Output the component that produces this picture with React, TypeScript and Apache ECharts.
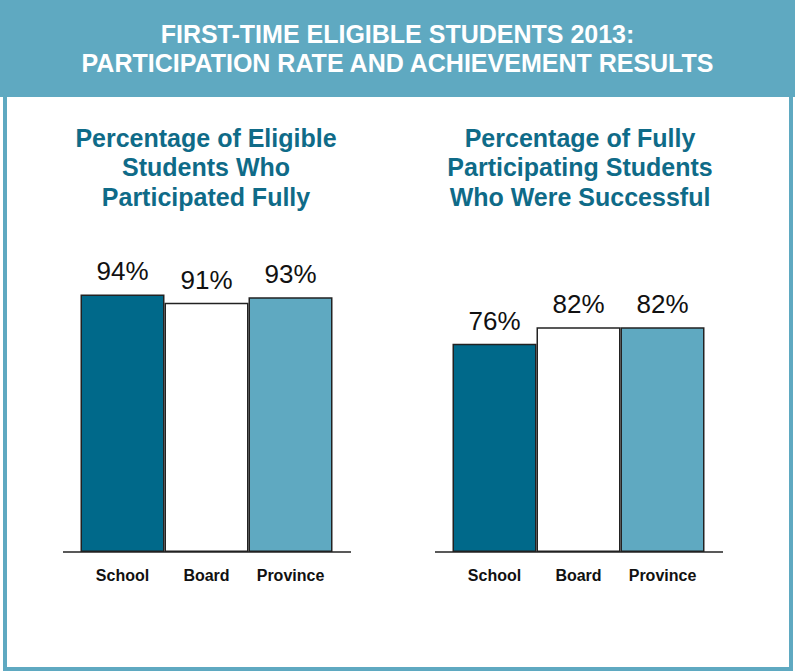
import React, { useEffect, useRef } from "react";
import * as echarts from "echarts";

const categories = ["School", "Board", "Province"];
const participationValues = [94, 91, 93];
const successValues = [76, 82, 82];
const barColors = ["#00698a", "#ffffff", "#5fa9c1"];

const headerTitle = "FIRST-TIME ELIGIBLE STUDENTS 2013:\nPARTICIPATION RATE AND ACHIEVEMENT RESULTS";
const leftTitle = "Percentage of Eligible\nStudents Who\nParticipated Fully";
const rightTitle = "Percentage of Fully\nParticipating Students\nWho Were Successful";

const FONT = "'Liberation Sans', Arial, Helvetica, sans-serif";
const TEAL = "#5fa9c1";
const DARK_TEAL_TEXT = "#0f6b88";

export default function App() {
  const ref = useRef<HTMLDivElement>(null);

  useEffect(() => {
    document.body.style.margin = "0";
    if (!ref.current) return;
    const chart = echarts.init(ref.current, null, { renderer: "svg" });

    const makeData = (vals: number[]) =>
      vals.map((v, i) => ({
        value: v,
        itemStyle: { color: barColors[i], borderColor: "#222", borderWidth: 1.5 },
      }));

    const xAxisBase = (gridIndex: number) => ({
      type: "category" as const,
      gridIndex,
      data: categories,
      axisLine: { show: false },
      axisTick: { show: false },
      axisLabel: {
        interval: 0,
        fontFamily: FONT,
        fontSize: 16,
        fontWeight: "bold" as const,
        color: "#111",
        margin: 15,
      },
    });

    const yAxisBase = (gridIndex: number) => ({
      type: "value" as const,
      gridIndex,
      min: 0,
      max: 100,
      show: false,
      splitLine: { show: false },
    });

    const seriesBase = (idx: number, vals: number[]) => ({
      type: "bar" as const,
      xAxisIndex: idx,
      yAxisIndex: idx,
      barWidth: "100%",
      barCategoryGap: "0%",
      data: makeData(vals),
      label: {
        show: true,
        position: "top" as const,
        distance: 10,
        formatter: "{c}%",
        fontFamily: FONT,
        fontSize: 26,
        color: "#111",
      },
      z: 3,
    });

    chart.setOption({
      animation: false,
      backgroundColor: "#ffffff",
      grid: [
        { left: 80.5, width: 252, top: 278, height: 274 },
        { left: 452.5, width: 252, top: 278, height: 274 },
      ],
      xAxis: [xAxisBase(0), xAxisBase(1)],
      yAxis: [yAxisBase(0), yAxisBase(1)],
      series: [seriesBase(0, participationValues), seriesBase(1, successValues)],
      graphic: [
        { type: "rect", z: 0, shape: { x: 0, y: 0, width: 795, height: 97 }, style: { fill: TEAL } },
        { type: "rect", z: 0, shape: { x: 3, y: 96, width: 4, height: 575 }, style: { fill: TEAL } },
        { type: "rect", z: 0, shape: { x: 789, y: 96, width: 4, height: 575 }, style: { fill: TEAL } },
        { type: "rect", z: 0, shape: { x: 3, y: 667, width: 790, height: 4 }, style: { fill: TEAL } },
        {
          type: "line",
          z: 10,
          shape: { x1: 63, y1: 552, x2: 351, y2: 552 },
          style: { stroke: "#222", lineWidth: 1.5 },
        },
        {
          type: "line",
          z: 10,
          shape: { x1: 435, y1: 552, x2: 723, y2: 552 },
          style: { stroke: "#222", lineWidth: 1.5 },
        },
        {
          type: "text",
          z: 5,
          x: 397.5,
          y: 19.5,
          style: {
            text: headerTitle,
            fill: "#ffffff",
            fontFamily: FONT,
            fontSize: 25,
            fontWeight: "bold",
            align: "center",
            verticalAlign: "top",
            lineHeight: 29,
          },
        },
        {
          type: "text",
          z: 5,
          x: 206,
          y: 122.75,
          style: {
            text: leftTitle,
            fill: DARK_TEAL_TEXT,
            fontFamily: FONT,
            fontSize: 25,
            fontWeight: "bold",
            align: "center",
            verticalAlign: "top",
            lineHeight: 29.5,
          },
        },
        {
          type: "text",
          z: 5,
          x: 580,
          y: 122.75,
          style: {
            text: rightTitle,
            fill: DARK_TEAL_TEXT,
            fontFamily: FONT,
            fontSize: 25,
            fontWeight: "bold",
            align: "center",
            verticalAlign: "top",
            lineHeight: 29.5,
          },
        },
      ],
    });

    return () => chart.dispose();
  }, []);

  return <div ref={ref} style={{ width: 795, height: 671 }} />;
}
